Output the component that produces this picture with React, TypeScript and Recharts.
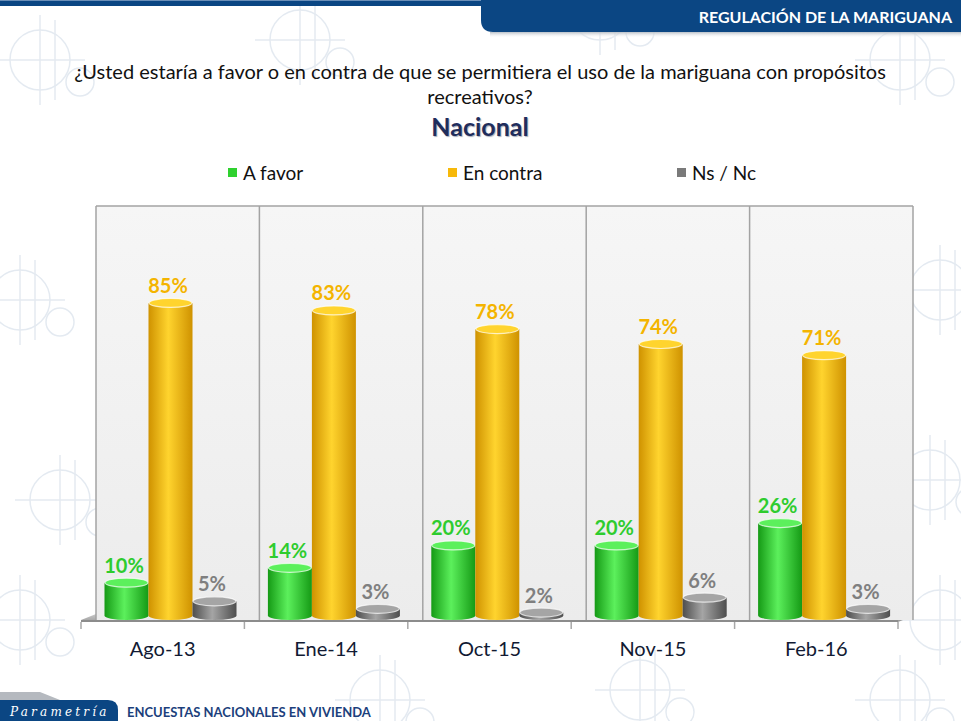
import React from 'react';
import { BarChart, Bar, XAxis, YAxis, CartesianGrid, LabelList, Legend } from 'recharts';

// survey waves
const categories = ['Ago-13', 'Ene-14', 'Oct-15', 'Nov-15', 'Feb-16'];
// percentages per answer
const aFavor = [10, 14, 20, 20, 26];
const enContra = [85, 83, 78, 74, 71];
const nsNc = [5, 3, 2, 6, 3];

const data = categories.map((name, i) => ({
  name,
  favor: aFavor[i],
  contra: enContra[i],
  nsnc: nsNc[i],
}));

// plot box (the back wall of the 3D chart)
const W = 961;
const H = 721;
const PLOT = { left: 96, right: 913, top: 206, bottom: 620 };
const DEPTH = 15; // floor front edge is shifted left by this
const AXIS_H = 40;

const FONT = 'Lato, "Noto Sans", sans-serif';

const series = [
  { key: 'favor', name: 'A favor', color: '#2fd12f', dark: '#159a15', light: '#5cf05c', label: '#2ecc2e' },
  { key: 'contra', name: 'En contra', color: '#f7b90a', dark: '#cf9200', light: '#ffd42e', label: '#f4b400' },
  { key: 'nsnc', name: 'Ns / Nc', color: '#7a7a7a', dark: '#4e4e4e', light: '#a5a5a5', label: '#7f7f7f' },
];

function Cylinder(props: any) {
  const { x, y, width, height, s } = props;
  if (!height || height <= 0) return null;
  const x0 = x - DEPTH / 2;
  const rx = width / 2;
  const ry = 4.5;
  const yb = y + height;
  return (
    <g>
      <path
        d={`M${x0},${y} L${x0},${yb - ry} A${rx},${ry} 0 0 0 ${x0 + width},${yb - ry} L${x0 + width},${y} Z`}
        fill={`url(#grad-${s.key})`}
      />
      <ellipse cx={x0 + rx} cy={y} rx={rx - 0.5} ry={ry} fill={s.light} stroke="#ffffff" strokeOpacity={0.7} strokeWidth={1.2} />
    </g>
  );
}

function makeLabel(s: any) {
  return (props: any) => {
    const { x, y, width, value } = props;
    return (
      <text
        x={x + width / 2 - 10}
        y={y - 10}
        textAnchor="middle"
        fill={s.label}
        fontFamily={FONT}
        fontWeight={700}
        fontSize={20}
      >
        {value}%
      </text>
    );
  };
}

function AxisTick(props: any) {
  const { x, y, payload } = props;
  return (
    <text x={x - DEPTH} y={y + 28} textAnchor="middle" fill="#111a33" fontFamily={FONT} fontSize={20}>
      {payload.value}
    </text>
  );
}

const legendLeft = [228, 448, 677];

function LegendContent(props: any) {
  const { payload } = props;
  return (
    <div style={{ position: 'relative', height: 24, width: W }}>
      {(payload || []).map((p: any, i: number) => (
        <div
          key={p.value}
          style={{
            position: 'absolute',
            left: legendLeft[i],
            top: 0,
            display: 'flex',
            alignItems: 'center',
            fontFamily: FONT,
            fontSize: 19,
            color: '#111',
          }}
        >
          <span style={{ display: 'inline-block', width: 9, height: 9, background: p.color, marginRight: 6 }} />
          {p.value}
        </div>
      ))}
    </div>
  );
}

function Watermark() {
  const motifs = [
    [40, 60], [300, 40], [600, 10], [900, 60], [20, 300], [940, 290], [400, 330],
    [60, 500], [930, 480], [20, 620], [940, 620], [640, 690], [900, 700], [380, 700],
  ];
  return (
    <g stroke="#e4eaf1" fill="none" strokeWidth={1.5}>
      {motifs.map(([cx, cy], i) => (
        <g key={i}>
          <circle cx={cx} cy={cy} r={30} />
          <circle cx={cx + 40} cy={cy + 22} r={14} />
          <line x1={cx - 45} y1={cy} x2={cx + 45} y2={cy} />
          <line x1={cx} y1={cy - 45} x2={cx} y2={cy + 45} />
          <line x1={cx + 15} y1={cy - 40} x2={cx + 15} y2={cy + 40} />
        </g>
      ))}
    </g>
  );
}

function Backdrop() {
  const step = (PLOT.right - PLOT.left) / categories.length;
  const fl = PLOT.left - DEPTH;
  const fr = PLOT.right - DEPTH;
  return (
    <svg width={W} height={H} style={{ position: 'absolute', left: 0, top: 0 }}>
      <defs>
        <linearGradient id="floorGrad" x1="0" y1="0" x2="0" y2="1">
          <stop offset="0%" stopColor="#c9c9c9" />
          <stop offset="100%" stopColor="#a9a9a9" />
        </linearGradient>
        <linearGradient id="shadowGrad" x1="0" y1="0" x2="0" y2="1">
          <stop offset="0%" stopColor="#b9c0c8" />
          <stop offset="100%" stopColor="#ffffff" stopOpacity={0} />
        </linearGradient>
      </defs>
      <rect width={W} height={H} fill="#ffffff" />
      <Watermark />
      {/* header */}
      <rect x={0} y={0} width={W} height={6} fill="#0b4683" />
      <rect x={0} y={0} width={W} height={1} fill="#6b8fb8" />
      <path d={`M481,0 L${W},0 L${W},32 L493,32 Q481,32 481,20 Z`} fill="#0b4683" />
      <rect x={490} y={32} width={W - 490} height={6} fill="url(#shadowGrad)" />
      <text x={952} y={23} textAnchor="end" fill="#ffffff" fontFamily={FONT} fontWeight={700} fontSize={16}>
        REGULACIÓN DE LA MARIGUANA
      </text>
      {/* titles */}
      <text x={480} y={79} textAnchor="middle" fill="#111" fontFamily={FONT} fontSize={20}>
        ¿Usted estaría a favor o en contra de que se permitiera el uso de la mariguana con propósitos
      </text>
      <text x={480} y={104} textAnchor="middle" fill="#111" fontFamily={FONT} fontSize={20}>
        recreativos?
      </text>
      <text
        x={480}
        y={136}
        textAnchor="middle"
        fill="#1f2d5c"
        fontFamily={FONT}
        fontWeight={700}
        fontSize={25}
        style={{ textShadow: '1px 1px 1px rgba(60,70,100,0.45)' }}
      >
        Nacional
      </text>
      {/* floor */}
      <path d={`M${PLOT.left},614 L${PLOT.right},614 L${fr},620 L${fl},620 Z`} fill="url(#floorGrad)" />
      <rect x={fl} y={620} width={fr - fl} height={2} fill="#8c8c8c" />
      <path d={`M${PLOT.right},614 L${fr},620 L${fr},622 L${PLOT.right},616 Z`} fill="#9a9a9a" />
      {categories.concat(['']).map((_, i) => (
        <line key={i} x1={fl + i * step} y1={622} x2={fl + i * step} y2={629} stroke="#a8a8a8" strokeWidth={1.5} />
      ))}
      {/* footer */}
      <path d={`M0,692 L40,692 L60,700 L0,700 Z`} fill="#b5b9bf" />
      <path d={`M0,700 L108,700 Q118,700 118,710 L118,${H} L0,${H} Z`} fill="#0b4683" />
      <text x={10} y={716} fill="#ffffff" fontFamily="'DejaVu Serif', serif" fontStyle="italic" fontSize={12} letterSpacing={3.2}>
        Parametría
      </text>
      <text x={127} y={717} fill="#1c3f7c" fontFamily={FONT} fontWeight={700} fontSize={13}>
        ENCUESTAS NACIONALES EN VIVIENDA
      </text>
    </svg>
  );
}

export default function App() {
  return (
    <div style={{ position: 'absolute', left: 0, top: 0, width: W, height: H, overflow: 'hidden', background: '#fff' }}>
      <Backdrop />
      <div style={{ position: 'absolute', left: 0, top: 0 }}>
        <BarChart
          width={W}
          height={H}
          data={data}
          margin={{ top: PLOT.top, left: PLOT.left, right: W - PLOT.right, bottom: H - PLOT.bottom - AXIS_H }}
          barGap={0}
          barSize={44}
        >
          <defs>
            {series.map((s) => (
              <linearGradient key={s.key} id={`grad-${s.key}`} x1="0" y1="0" x2="1" y2="0">
                <stop offset="0%" stopColor={s.dark} />
                <stop offset="45%" stopColor={s.light} />
                <stop offset="100%" stopColor={s.dark} />
              </linearGradient>
            ))}
            <linearGradient id="wallGrad" x1="0" y1="0" x2="0" y2="1">
              <stop offset="0%" stopColor="#f6f6f6" />
              <stop offset="100%" stopColor="#ececec" />
            </linearGradient>
          </defs>
          <CartesianGrid
            fill="url(#wallGrad)"
            fillOpacity={1}
            stroke="#a3a3a3"
            strokeWidth={1.5}
            verticalCoordinatesGenerator={({ offset }: any) =>
              categories.concat(['']).map((_, i) => offset.left + (i * offset.width) / categories.length)
            }
            horizontalCoordinatesGenerator={({ offset }: any) => [offset.top]}
          />
          <XAxis dataKey="name" axisLine={false} tickLine={false} height={AXIS_H} tick={<AxisTick />} interval={0} />
          <YAxis hide domain={[0, 111]} />
          <Legend
            layout="horizontal"
            verticalAlign="middle"
            align="center"
            content={<LegendContent />}
            wrapperStyle={{ position: 'absolute', top: 161, left: 0, width: W }}
          />
          {series.map((s) => (
            <Bar
              key={s.key}
              dataKey={s.key}
              name={s.name}
              fill={s.color}
              isAnimationActive={false}
              shape={(p: any) => <Cylinder {...p} s={s} />}
            >
              <LabelList dataKey={s.key} content={makeLabel(s)} />
            </Bar>
          ))}
        </BarChart>
      </div>
    </div>
  );
}
